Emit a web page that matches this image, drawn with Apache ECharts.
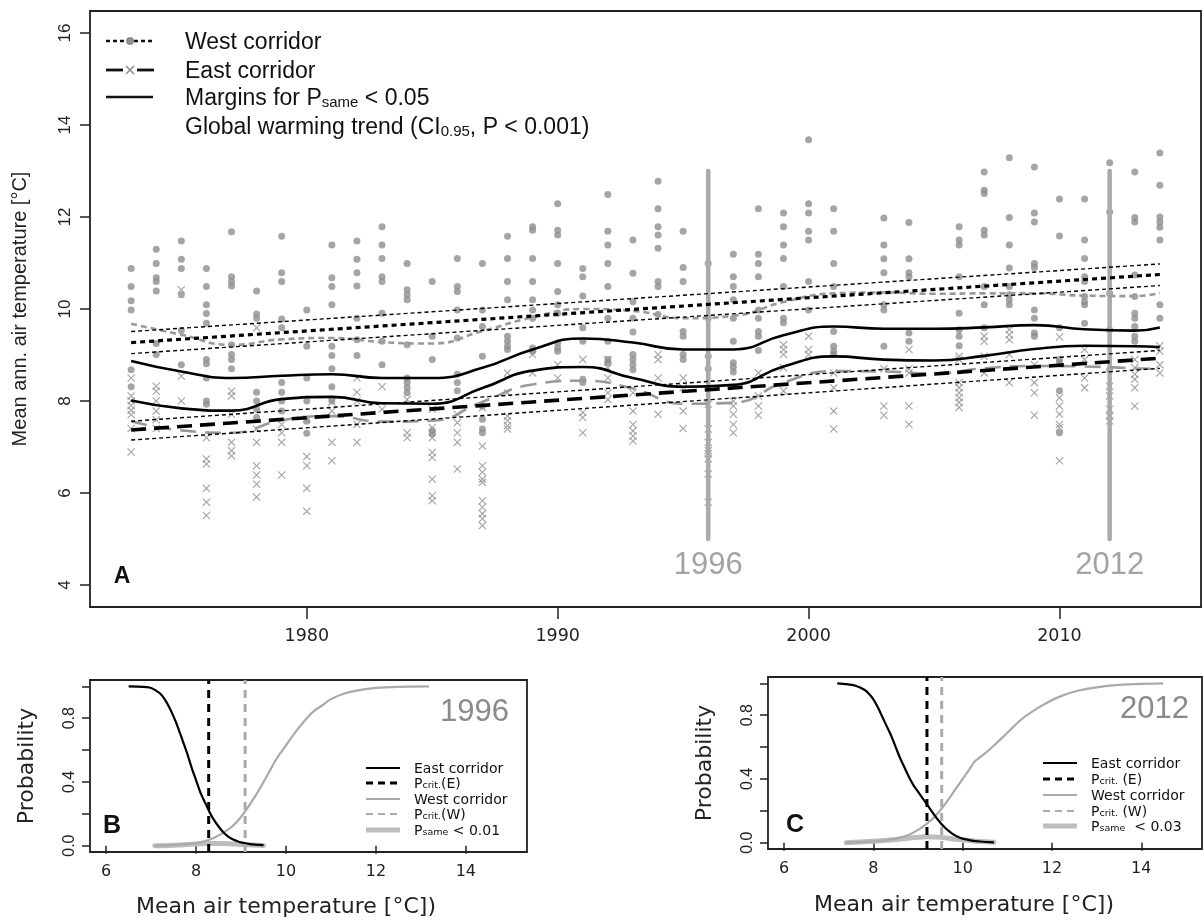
<!DOCTYPE html>
<html><head><meta charset="utf-8">
<script src="https://cdn.jsdelivr.net/npm/echarts@6.0.0/dist/echarts.min.js"></script>
<style>html,body{margin:0;padding:0;background:#fff}#c{width:1204px;height:922px}</style>
</head><body><div id="c"></div><script>
// ---------- DATA (panel A) ----------
const years = [1973,1974,1975,1976,1977,1978,1979,1980,1981,1982,1983,1984,1985,1986,1987,1988,1989,1990,1991,1992,1993,1994,1995,1996,1997,1998,1999,2000,2001,2002,2003,2004,2005,2006,2007,2008,2009,2010,2011,2012,2013,2014];
// smooth curves read at these years
const curveYears = [1973,1975,1977,1979,1981,1983,1985,1987,1989,1991,1993,1995,1997,1999,2001,2003,2005,2007,2009,2011,2013,2014];
const westUpper  = [10.37,10.16,10.14,10.19,10.20,10.16,10.15,10.38,10.70,10.85,10.75,10.59,10.63,10.95,11.15,11.18,11.17,11.23,11.28,11.29,11.32,11.34];
const westMargin = [8.87,8.64,8.50,8.55,8.58,8.50,8.50,8.72,9.12,9.36,9.27,9.12,9.12,9.43,9.62,9.57,9.57,9.60,9.65,9.56,9.53,9.60];
const eastMargin = [8.01,7.84,7.79,8.04,8.09,7.95,7.94,8.28,8.66,8.74,8.50,8.31,8.35,8.75,8.97,8.90,8.88,8.98,9.13,9.20,9.19,9.17];
const eastLower  = [7.15,6.90,6.81,6.98,7.14,7.13,7.15,7.48,7.83,7.96,7.82,7.62,7.60,7.90,8.20,8.26,8.24,8.30,8.35,8.33,8.30,8.28];
const westSmooth = [9.68,9.44,9.22,9.34,9.37,9.28,9.25,9.52,9.82,10.00,9.96,9.80,9.85,10.15,10.34,10.36,10.33,10.34,10.34,10.29,10.28,10.35];
const eastSmooth = [7.56,7.36,7.31,7.58,7.67,7.55,7.57,7.98,8.36,8.44,8.27,7.94,7.96,8.40,8.65,8.64,8.60,8.71,8.76,8.75,8.71,8.70];
const trendYears = [1973, 2014];
const westTrend = [9.27, 10.75], westTrendHi = [9.51, 10.98], westTrendLo = [9.03, 10.51];
const eastTrend = [7.37, 8.93], eastTrendHi = [7.56, 9.10], eastTrendLo = [7.15, 8.71];
// observations, one list per year (aligned with `years`)
const westObs = [
 [10.88,10.49,10.18,9.98,8.68,8.31],[11.30,10.99,10.68,10.60,10.39,9.25,9.01],[11.48,11.08,10.88,10.31,9.53,8.79],
 [10.88,10.49,10.09,9.90,9.69,8.90,8.81,8.50,8.00,7.93],[11.68,10.70,10.60,10.50,9.22,9.01,8.90,8.70],[10.39,9.89,9.80,8.19,8.00,7.82,7.64],
 [11.58,10.79,10.60,9.78,9.59,8.40,8.19,8.00,7.78],[9.98,9.19,8.50,8.00,7.56,7.30],[11.39,10.68,10.49,10.09,9.19,8.99,8.70,8.31,8.00],
 [11.48,11.08,10.79,10.50,9.80,9.33,8.99],[11.79,11.39,11.10,10.70,10.60,9.91,9.30,8.79],[10.99,10.42,10.31,10.20,9.22,8.50,8.40,8.29,8.18],
 [10.60,9.41,8.90,7.35,7.28],[11.10,10.49,10.38,9.98,9.37,8.58,8.40,8.22],[10.99,9.98,9.62,8.97,7.89,7.60,7.39,7.31],
 [11.58,11.10,10.60,10.20,9.41,9.30,9.19,9.12],[11.79,11.71,11.10,10.60,10.20,9.98,9.80,9.15,9.08],[12.29,11.71,11.61,10.99,10.38,10.09,9.91,9.26,9.15,9.08],
 [10.88,10.70,10.28,9.59,9.30,8.47,8.40],[12.49,11.69,11.39,10.99,10.49,9.80,9.30,8.90,8.83],[11.50,10.78,10.16,9.80,9.50,9.01,8.90,8.79,8.68],
 [12.78,12.18,11.79,11.61,11.32,10.60,10.49,9.88],[11.69,10.90,10.60,9.51,9.41,9.01,8.90],[10.99,9.80,8.97,8.70],
 [11.19,10.70,10.49,10.20,9.80,9.30,8.83,8.74,8.63],[12.18,11.19,10.99,10.70,9.98,9.80,9.51,9.41,9.10],[12.09,11.79,11.39,11.10,10.49,9.80,9.70],
 [13.68,12.29,12.09,11.69,11.50,10.60,9.98],[12.18,11.69,10.99,10.49,9.51,9.19,9.08,9.01],[],
 [11.98,11.39,11.09,10.79,10.09,9.98,9.19],[11.88,11.09,10.79,10.70,9.48,9.30],[],
 [11.79,11.50,11.39,10.70,9.91,9.55,9.41,9.20],[12.98,12.58,12.51,11.71,11.61,10.49,10.09,9.59],[13.29,11.99,11.39,10.89,10.49,10.31,10.20,10.09],
 [13.09,12.09,11.89,10.99,10.90,9.98,9.80,9.48,9.41],[12.39,11.59,9.59,8.90,8.83,8.22,7.31],[12.39,11.50,11.10,10.70,10.60,10.27,10.16,10.09,9.69],
 [13.18,12.11,10.34,9.55,8.68],[12.98,11.99,11.89,10.74,10.27,9.91,9.80,9.62,9.41,9.30],[13.39,12.69,12.00,11.89,11.78,11.50,10.09,9.80]
];
const eastObs = [
 [8.50,8.11,8.00,7.90,7.80,7.70,7.40,6.89],[8.32,8.21,8.00,7.78,7.59,7.40],[10.42,8.54,8.00],
 [7.20,6.74,6.63,6.10,5.80,5.51],[8.21,8.11,7.71,7.10,6.92,6.81],[9.59,7.39,7.10,6.59,6.39,6.19,5.91],
 [7.49,7.31,7.10,6.39],[7.60,6.79,6.59,6.10,5.60],[7.98,7.78,7.10,6.70],
 [8.50,8.19,8.00,7.49,7.10],[8.31,7.82],[8.03,7.31,7.20],
 [7.82,7.42,7.20,6.88,6.77,6.30,5.94,5.83],[7.71,7.53,7.31,7.10,6.52],[7.85,7.02,6.59,6.45,6.30,6.23,5.83,5.69,5.55,5.44,5.29],
 [8.61,8.18,7.67,7.57,7.46,7.39],[9.01,8.61],[8.79,8.50],
 [8.90,7.75,7.64,7.31],[8.90,8.72,8.50,8.18,8.03],[8.18,7.78,7.49,7.35,7.24,7.13],
 [9.01,8.90,8.50,7.71],[8.50,8.29,7.78,7.40],[7.93,7.39,7.10,6.92,6.85,6.74,6.41,5.80],
 [8.00,7.89,7.71,7.49,7.31],[8.61,8.11,7.89,7.69],[9.22,9.12,9.01,8.72,8.22],
 [9.41,9.12,9.01],[8.61,8.29,7.78,7.39],[],
 [8.70,7.89,7.69],[9.12,8.70,8.61,7.89,7.49],[],
 [8.97,8.90,8.40,8.29,8.18,8.07,7.97,7.86],[9.41,9.30,8.97,8.61],[9.55,9.44,9.33,9.01,8.40],
 [8.79,8.40,8.18,7.69],[9.39,8.07,7.89,7.71,7.49,7.42,6.70],[9.12,8.90,8.50,8.29],
 [8.32,8.11,7.82,7.67,7.57],[8.90,8.72,8.58,8.47,8.29,7.89],[9.20,9.08,8.79,8.61]
];
const markYears = [1996, 2012];
const markLineRange = [5, 13];
const markLabelValue = 4.42;
const xTicksA = [1980, 1990, 2000, 2010];
const yTicksA = [4, 6, 8, 10, 12, 14, 16];

// ---------- DATA (panels B, C) ----------
const bEastT = [6.5,6.7,6.9,7.0,7.1,7.2,7.3,7.4,7.5,7.6,7.7,7.8,7.9,8.0,8.1,8.2,8.3,8.4,8.5,8.6,8.7,8.8,8.9,9.0,9.2,9.5];
const bEastP = [1.0,0.999,0.995,0.99,0.975,0.955,0.92,0.87,0.81,0.74,0.66,0.58,0.49,0.41,0.33,0.27,0.21,0.16,0.12,0.085,0.06,0.042,0.03,0.02,0.01,0.003];
const bWestT = [7.08,7.4,7.7,8.0,8.2,8.4,8.6,8.8,9.0,9.2,9.4,9.6,9.8,10.0,10.2,10.4,10.6,10.8,11.0,11.3,11.6,12.0,12.5,13.18];
const bWestP = [0.0,0.003,0.008,0.016,0.028,0.05,0.08,0.12,0.18,0.26,0.35,0.45,0.55,0.63,0.71,0.78,0.84,0.88,0.92,0.955,0.975,0.99,0.997,1.0];
const bSameT = [7.08,7.5,8.0,8.3,8.6,9.0,9.5];
const bSameP = [0.0,0.003,0.010,0.014,0.013,0.007,0.001];
const bCrit = [8.28, 9.09];
const cEastT = [7.19,7.4,7.6,7.8,7.9,8.0,8.1,8.2,8.3,8.4,8.5,8.6,8.7,8.8,8.9,9.0,9.1,9.2,9.3,9.4,9.5,9.6,9.7,9.8,9.9,10.0,10.2,10.4,10.7];
const cEastP = [1.0,0.995,0.985,0.96,0.935,0.90,0.85,0.79,0.73,0.67,0.60,0.53,0.47,0.41,0.36,0.32,0.28,0.24,0.20,0.16,0.125,0.095,0.07,0.05,0.035,0.025,0.013,0.007,0.002];
const cWestT = [7.39,7.8,8.2,8.5,8.8,9.0,9.2,9.4,9.6,9.8,10.0,10.15,10.27,10.5,10.7,11.0,11.3,11.6,11.9,12.2,12.6,13.0,13.5,14.0,14.49];
const cWestP = [0.0,0.005,0.013,0.025,0.05,0.08,0.12,0.17,0.24,0.32,0.40,0.46,0.51,0.56,0.61,0.69,0.77,0.83,0.88,0.92,0.955,0.975,0.99,0.997,1.0];
const cSameT = [7.39,8.0,8.5,9.0,9.2,9.5,10.0,10.7];
const cSameP = [0.0,0.008,0.02,0.034,0.037,0.033,0.017,0.002];
const cCrit = [9.20, 9.53];
const xTicksBC = [6, 8, 10, 12, 14];
const yTicksBC = [0, 0.2, 0.4, 0.6, 0.8, 1.0];
const yLabelsBC = [0, 0.4, 0.8];

// ---------- helpers ----------
const pairs = (xs, ys) => xs.map((x, i) => [x, ys[i]]);
const diff = (a, b) => a.map((v, i) => +(v - b[i]).toFixed(3));
const obsPoints = obs => { const out = []; obs.forEach((l, i) => l.forEach(v => out.push([years[i], v]))); return out; };
const GRAY_PT = '#8f8f8f';
const XPATH = 'path://M1,0L5,4L9,0L10,1L6,5L10,9L9,10L5,6L1,10L0,9L4,5L0,1Z';

const chart = echarts.init(document.getElementById('c'), null, {renderer: 'canvas'});

function lineS(data, color, width, type, xi, extra) {
  return Object.assign({type: 'line', data, xAxisIndex: xi, yAxisIndex: xi, symbol: 'none', smooth: false,
    silent: true, animation: false, lineStyle: {color, width, type, cap: 'butt'}}, extra || {});
}

const series = [];
series.push(lineS(pairs(curveYears, westMargin), '#000', 0, 'solid', 0, {stack: 'wb', smooth: true, lineStyle: {opacity: 0}, z: 1}));
series.push(lineS(pairs(curveYears, diff(westUpper, westMargin)), '#000', 0, 'solid', 0, {stack: 'wb', smooth: true, lineStyle: {opacity: 0}, areaStyle: {color: '#dddddd', opacity: 1}, z: 1}));
series.push(lineS(pairs(curveYears, eastLower), '#000', 0, 'solid', 0, {stack: 'eb', smooth: true, lineStyle: {opacity: 0}, z: 1}));
series.push(lineS(pairs(curveYears, diff(eastMargin, eastLower)), '#000', 0, 'solid', 0, {stack: 'eb', smooth: true, lineStyle: {opacity: 0}, areaStyle: {color: '#c8c8c8', opacity: 1}, z: 1}));
series.push({type: 'scatter', xAxisIndex: 0, yAxisIndex: 0, data: obsPoints(westObs), symbol: 'circle', symbolSize: 7,
  itemStyle: {color: GRAY_PT}, silent: true, animation: false, z: 2});
series.push({type: 'scatter', xAxisIndex: 0, yAxisIndex: 0, data: obsPoints(eastObs), symbol: XPATH, symbolSize: 8,
  itemStyle: {color: GRAY_PT}, silent: true, animation: false, z: 2});
markYears.forEach(y => {
  series.push(lineS(markLineRange.map(v => [y, v]), '#aaaaaa', 4.5, 'solid', 0, {z: 3, lineStyle: {color: '#aaaaaa', width: 4.5, cap: 'round'}}));
});
series.push({type: 'scatter', xAxisIndex: 0, yAxisIndex: 0, data: markYears.map(y => [y, markLabelValue]), symbolSize: 0,
  silent: true, animation: false, label: {show: true, position: 'inside', formatter: p => String(p.value[0]),
  fontFamily: 'Liberation Sans', fontSize: 31, color: '#8c8c8c'}, z: 5});
series.push(lineS(pairs(curveYears, westSmooth), '#999999', 2.6, [6, 4], 0, {smooth: true, z: 4}));
series.push(lineS(pairs(curveYears, eastSmooth), '#999999', 2.6, [16, 9], 0, {smooth: true, z: 4}));
series.push(lineS(pairs(curveYears, westMargin), '#000', 2.6, 'solid', 0, {smooth: true, z: 5}));
series.push(lineS(pairs(curveYears, eastMargin), '#000', 2.6, 'solid', 0, {smooth: true, z: 5}));
series.push(lineS(pairs(trendYears, westTrendHi), '#000', 1.4, [4, 3], 0, {z: 6}));
series.push(lineS(pairs(trendYears, westTrendLo), '#000', 1.4, [4, 3], 0, {z: 6}));
series.push(lineS(pairs(trendYears, westTrend), '#000', 3.2, [5, 4], 0, {z: 6}));
series.push(lineS(pairs(trendYears, eastTrendHi), '#000', 1.4, [4, 3], 0, {z: 6}));
series.push(lineS(pairs(trendYears, eastTrendLo), '#000', 1.4, [4, 3], 0, {z: 6}));
series.push(lineS(pairs(trendYears, eastTrend), '#000', 3.6, [15, 8], 0, {z: 6}));

function panel(ix, eT, eP, wT, wP, sT, sP, crit) {
  series.push(lineS(pairs(sT, sP), '#bdbdbd', 5, 'solid', ix, {smooth: 0.4, z: 2, lineStyle: {color: '#bdbdbd', width: 5, cap: 'round'}}));
  series.push(lineS(pairs(wT, wP), '#aaaaaa', 2.2, 'solid', ix, {smooth: 0.25, z: 3}));
  series.push(lineS(pairs(eT, eP), '#000', 2.2, 'solid', ix, {smooth: 0.25, z: 3}));
  series.push(lineS([[crit[0], -0.04], [crit[0], 1.04]], '#000', 3, [8, 6], ix, {z: 4}));
  series.push(lineS([[crit[1], -0.04], [crit[1], 1.04]], '#aaaaaa', 3, [8, 6], ix, {z: 4}));
}
panel(1, bEastT, bEastP, bWestT, bWestP, bSameT, bSameP, bCrit);
panel(2, cEastT, cEastP, cWestT, cWestP, cSameT, cSameP, cCrit);

const gridBase = {show: true, borderColor: '#222', borderWidth: 1.8, backgroundColor: 'transparent', containLabel: false, outerBoundsMode: 'none'};
const tickStyle = {show: true, inside: false, length: 8, lineStyle: {color: '#222', width: 1.5}};

function xAx(gi, min, max, ticks, fs, margin, tlen) {
  return {type: 'value', gridIndex: gi, min, max, axisLine: {show: false}, splitLine: {show: false},
    axisTick: Object.assign({customValues: ticks}, tickStyle, {length: tlen}),
    axisLabel: {customValues: ticks, formatter: v => String(v), fontFamily: 'DejaVu Sans', fontSize: fs, color: '#222', margin}};
}

const option = {
  animation: false,
  backgroundColor: '#ffffff',
  grid: [
    Object.assign({left: 90, top: 11, width: 1111, height: 596}, gridBase),
    Object.assign({left: 90, top: 680, width: 437, height: 172}, gridBase),
    Object.assign({left: 768, top: 677, width: 434, height: 172}, gridBase)
  ],
  xAxis: [xAx(0, 1971.36, 2015.64, xTicksA, 17.5, 20, 12), xAx(1, 5.64, 15.36, xTicksBC, 16, 12, 8), xAx(2, 5.64, 15.36, xTicksBC, 16, 12, 8)],
  yAxis: [
    {type: 'value', gridIndex: 0, min: 3.52, max: 16.48, axisLine: {show: false}, splitLine: {show: false},
     axisTick: Object.assign({customValues: yTicksA}, tickStyle, {length: 10}),
     axisLabel: {customValues: yTicksA, rotate: 90, fontFamily: 'Liberation Sans', fontSize: 17, color: '#222', margin: 16},
     name: 'Mean ann. air temperature [°C]', nameLocation: 'middle', nameGap: 60,
     nameTextStyle: {fontFamily: 'Liberation Sans', fontSize: 20, color: '#222'}},
    ...[1, 2].map(gi => ({type: 'value', gridIndex: gi, min: -0.04, max: 1.04, axisLine: {show: false}, splitLine: {show: false},
     axisTick: Object.assign({customValues: yTicksBC}, tickStyle),
     axisLabel: {customValues: yLabelsBC, rotate: 90, fontFamily: 'Liberation Sans', fontSize: 16, color: '#222', margin: 12,
       formatter: v => v.toFixed(1)},
     name: 'Probability', nameLocation: 'middle', nameGap: 52,
     nameTextStyle: {fontFamily: 'DejaVu Sans', fontSize: 22, color: '#222'}}))
  ],
  series,
  graphic: []
};

// ---------- legends & annotations ----------
const G = [];
const richA = {a: {fontFamily: 'Liberation Sans', fontSize: 23, lineHeight: 26, fill: '#111', verticalAlign: 'bottom'},
               s: {fontFamily: 'Liberation Sans', fontSize: 15, lineHeight: 22, fill: '#111', verticalAlign: 'bottom'}};
const legA = [
  {y: 41, text: '{a|West corridor}'},
  {y: 70, text: '{a|East corridor}'},
  {y: 97, text: '{a|Margins for P}{s|same}{a| < 0.05}'},
  {y: 126, text: '{a|Global warming trend (CI}{s|0.95}{a|, P < 0.001)}'}
];
legA.forEach(r => G.push({type: 'text', x: 185, y: r.y, style: {text: r.text, rich: richA, verticalAlign: 'middle', align: 'left'}, z: 100}));
G.push({type: 'line', shape: {x1: 106, y1: 41, x2: 153, y2: 41}, style: {stroke: '#111', lineWidth: 2.5, lineDash: [4, 3]}, z: 100});
G.push({type: 'circle', shape: {cx: 130, cy: 41, r: 4}, style: {fill: GRAY_PT}, z: 101});
G.push({type: 'line', shape: {x1: 106, y1: 70, x2: 123, y2: 70}, style: {stroke: '#111', lineWidth: 2.8}, z: 100});
G.push({type: 'line', shape: {x1: 137, y1: 70, x2: 154, y2: 70}, style: {stroke: '#111', lineWidth: 2.8}, z: 100});
G.push({type: 'line', shape: {x1: 126, y1: 66, x2: 134, y2: 74}, style: {stroke: GRAY_PT, lineWidth: 1.6}, z: 100});
G.push({type: 'line', shape: {x1: 126, y1: 74, x2: 134, y2: 66}, style: {stroke: GRAY_PT, lineWidth: 1.6}, z: 100});
G.push({type: 'line', shape: {x1: 106, y1: 97, x2: 153, y2: 97}, style: {stroke: '#111', lineWidth: 2.5}, z: 100});
G.push({type: 'text', x: 122, y: 577, style: {text: 'A', font: 'bold 23px "Liberation Sans"', fill: '#111', align: 'center', verticalAlign: 'middle'}, z: 100});

const richB = {a: {fontFamily: 'DejaVu Sans', fontSize: 14, lineHeight: 16, fill: '#111', verticalAlign: 'bottom'},
               s: {fontFamily: 'DejaVu Sans', fontSize: 9.5, lineHeight: 12, fill: '#111', verticalAlign: 'bottom'}};
function panelLegend(x1, x2, tx, ys, labels) {
  const styles = [
    {stroke: '#000', lineWidth: 2.2},
    {stroke: '#000', lineWidth: 3, lineDash: [7, 5]},
    {stroke: '#aaaaaa', lineWidth: 2.2},
    {stroke: '#aaaaaa', lineWidth: 2.2, lineDash: [7, 5]},
    {stroke: '#bdbdbd', lineWidth: 5}
  ];
  ys.forEach((y, i) => {
    G.push({type: 'line', shape: {x1, y1: y, x2, y2: y}, style: styles[i], z: 100});
    G.push({type: 'text', x: tx, y, style: {text: labels[i], rich: richB, verticalAlign: 'middle', align: 'left'}, z: 100});
  });
}
panelLegend(366, 400, 414, [768, 783, 799, 814, 830],
  ['{a|East corridor}', '{a|P}{s|crit.}{a|(E)}', '{a|West corridor}', '{a|P}{s|crit.}{a|(W)}', '{a|P}{s|same}{a| < 0.01}']);
panelLegend(1043, 1077, 1091, [763, 779, 795, 811, 826],
  ['{a|East corridor}', '{a|P}{s|crit.}{a| (E)}', '{a|West corridor}', '{a|P}{s|crit.}{a| (W)}', '{a|P}{s|same}{a|  < 0.03}']);
G.push({type: 'text', x: 509, y: 712, style: {text: '1996', font: '31px "Liberation Sans"', fill: '#8a8a8a', align: 'right', verticalAlign: 'middle'}, z: 100});
G.push({type: 'text', x: 1189, y: 709, style: {text: '2012', font: '31px "Liberation Sans"', fill: '#8a8a8a', align: 'right', verticalAlign: 'middle'}, z: 100});
G.push({type: 'text', x: 112, y: 826, style: {text: 'B', font: 'bold 25px "Liberation Sans"', fill: '#111', align: 'center', verticalAlign: 'middle'}, z: 100});
G.push({type: 'text', x: 795, y: 825, style: {text: 'C', font: 'bold 25px "Liberation Sans"', fill: '#111', align: 'center', verticalAlign: 'middle'}, z: 100});
G.push({type: 'text', x: 286, y: 907, style: {text: 'Mean air temperature [°C])', font: '22px "DejaVu Sans"', fill: '#222', align: 'center', verticalAlign: 'middle'}, z: 100});
G.push({type: 'text', x: 964, y: 905, style: {text: 'Mean air temperature [°C])', font: '22px "DejaVu Sans"', fill: '#222', align: 'center', verticalAlign: 'middle'}, z: 100});
option.graphic = G;

chart.setOption(option);
</script></body></html>
